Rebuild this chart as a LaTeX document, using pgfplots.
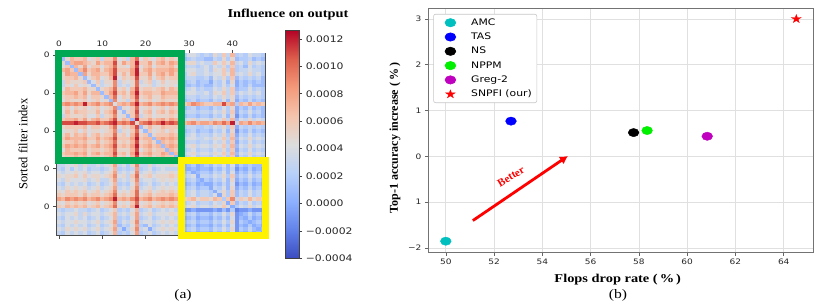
\documentclass[border=0pt]{standalone}
\usepackage{pgfplots}
\pgfplotsset{compat=1.18}
\usepackage{pgfplotstable}
\usetikzlibrary{arrows.meta}
\usepackage{fontspec}
\setmainfont{Liberation Serif}
\newfontfamily\serifX{Liberation Serif}[FakeStretch=1.2]
\newfontfamily\mplfont{DejaVu Sans}[FakeStretch=1.2]
\definecolor{hmgreen}{RGB}{0,168,84}
\definecolor{amc}{RGB}{0,191,191}
\definecolor{nppm}{RGB}{0,240,0}
\definecolor{greg}{RGB}{191,0,191}
\pgfplotsset{/pgf/number format/assume math mode=true}
\pgfdeclareplotmark{cell}{\pgfpathrectangle{\pgfqpoint{-2.2pt}{-1.93pt}}{\pgfqpoint{4.4pt}{3.86pt}}\pgfusepathqfill}
\pgfdeclareplotmark{fstar}{%
  \pgfpathmoveto{\pgfpointpolar{90}{\pgfplotmarksize}}%
  \pgfpathlineto{\pgfpointpolar{126}{0.382\pgfplotmarksize}}%
  \pgfpathlineto{\pgfpointpolar{162}{\pgfplotmarksize}}%
  \pgfpathlineto{\pgfpointpolar{198}{0.382\pgfplotmarksize}}%
  \pgfpathlineto{\pgfpointpolar{234}{\pgfplotmarksize}}%
  \pgfpathlineto{\pgfpointpolar{270}{0.382\pgfplotmarksize}}%
  \pgfpathlineto{\pgfpointpolar{306}{\pgfplotmarksize}}%
  \pgfpathlineto{\pgfpointpolar{342}{0.382\pgfplotmarksize}}%
  \pgfpathlineto{\pgfpointpolar{18}{\pgfplotmarksize}}%
  \pgfpathlineto{\pgfpointpolar{54}{0.382\pgfplotmarksize}}%
  \pgfpathclose\pgfusepathqfillstroke}
% influence matrix, units of 1e-4 (rows = sorted filter index, columns 0..47)
\pgfplotstableread[header=false]{
1 5 6 4 7 5 8 5 4 7 5 6 6 10 4 6 5 8 11 3 6 7 5 6 8 5 7 6 3 2 4 4 3 2 3 2 5 3 6 3 7 2 3 2 4 3 3 2
6 1 5 7 6 6 7 4 5 6 3 6 6 9 4 5 3 7 10 4 6 5 4 6 7 5 6 5 3 1 2 3 2 2 1 1 3 2 5 2 5 1 2 2 3 1 2 1
7 5 1 7 8 8 7 6 5 8 6 7 7 11 5 8 6 7 12 6 6 8 5 7 8 6 8 7 4 3 5 5 3 4 3 3 6 4 6 4 7 3 4 2 5 3 4 3
6 4 6 1 7 5 8 4 6 6 4 6 7 10 5 5 4 7 11 4 6 7 4 6 6 6 7 5 2 2 3 3 2 3 4 2 4 3 5 2 6 2 3 1 4 2 3 2
8 7 8 6 1 7 9 6 7 8 5 7 8 11 6 6 6 8 12 5 7 8 6 7 7 7 8 7 3 3 4 4 3 3 4 2 5 4 6 3 7 2 3 3 4 3 3 2
7 5 8 7 7 1 8 5 7 7 6 6 8 11 5 7 5 8 12 6 6 8 5 7 8 6 8 6 4 2 4 5 3 3 4 3 4 4 6 4 7 3 4 3 5 3 4 2
5 5 6 6 7 5 1 4 6 7 4 5 7 12 4 6 5 6 11 5 5 7 4 6 7 5 6 6 3 2 3 3 2 2 3 1 4 3 5 2 6 1 3 2 3 2 3 1
4 3 6 5 5 5 6 1 4 6 3 5 5 9 3 5 4 5 10 3 5 6 3 4 6 4 5 5 2 1 2 3 1 2 2 0 3 2 4 1 5 0 2 1 2 1 2 1
5 3 5 4 6 4 5 4 1 5 3 4 5 9 3 4 3 5 10 4 4 5 3 4 5 4 5 4 2 1 1 2 1 2 1 1 3 2 4 2 4 0 2 1 3 1 1 1
6 4 7 6 6 6 7 5 5 1 5 6 7 10 5 6 4 7 11 5 6 6 5 6 7 5 7 6 3 2 3 4 2 3 2 2 4 3 5 3 6 1 2 2 4 2 3 2
7 6 7 7 8 6 8 5 7 7 1 6 8 11 6 7 5 8 12 6 7 7 6 6 8 7 7 7 4 3 4 4 3 3 4 2 5 4 6 3 6 2 4 3 4 3 4 2
6 5 6 6 7 6 7 4 6 6 5 1 7 10 4 6 5 7 11 5 6 7 5 5 7 6 6 6 3 2 3 3 2 3 3 2 4 3 5 3 5 1 3 2 3 2 3 2
5 4 6 5 5 5 6 4 5 6 4 5 1 9 4 5 3 6 10 4 5 6 4 5 6 5 5 5 2 1 2 3 1 2 2 1 3 2 4 1 5 0 2 1 3 1 2 1
8 8 9 8 9 8 12 7 8 9 7 8 9 4 7 8 7 9 12 7 8 9 7 8 9 8 9 8 6 6 7 9 8 7 6 6 7 7 11 7 8 2 7 6 8 6 7 6
5 4 6 4 6 5 6 4 5 6 4 5 6 9 1 5 4 6 10 4 5 6 4 5 6 4 6 5 2 1 2 3 1 2 2 1 3 2 4 2 5 0 2 1 3 1 2 1
6 4 7 5 7 6 6 5 5 7 4 6 7 10 4 1 5 6 11 4 6 7 4 6 7 5 7 6 3 2 3 3 2 3 3 2 4 3 5 2 6 0 3 2 4 2 3 1
5 3 6 5 5 5 6 4 4 6 3 5 6 9 4 5 1 6 10 3 5 6 4 5 5 5 6 5 2 1 2 2 1 2 2 1 3 2 4 1 5 -1 2 1 3 1 2 1
7 6 7 7 8 6 8 5 7 8 6 6 8 11 5 7 6 1 12 6 6 8 6 7 8 6 8 7 4 3 4 5 3 4 4 3 5 4 6 3 7 1 4 3 5 3 4 3
12 11 11 11 12 11 11 10 10 11 9 10 11 12 9 10 9 11 5 9 10 11 9 10 12 10 11 10 8 7 8 9 7 8 8 7 9 8 10 8 12 3 8 7 9 7 8 7
5 5 6 6 6 6 7 4 6 6 5 5 7 10 4 6 5 7 11 1 5 7 5 5 7 6 6 6 3 2 3 3 2 2 3 2 4 3 5 2 6 0 3 2 3 2 3 2
5 4 5 5 6 4 6 4 5 5 4 5 6 9 3 5 4 6 10 4 1 6 4 5 6 4 6 5 2 1 2 3 1 2 2 1 3 2 4 1 5 -1 2 1 3 1 2 1
6 5 7 5 7 6 7 4 6 7 5 6 6 10 5 6 4 7 11 5 6 1 5 6 6 6 7 6 3 2 3 4 2 3 3 2 4 3 5 2 6 0 3 2 4 2 3 2
7 6 8 7 7 7 8 6 6 8 6 7 8 11 6 6 6 8 12 6 7 7 1 7 8 7 8 7 4 3 4 4 3 3 4 3 5 4 6 3 7 1 4 3 5 3 4 3
6 5 6 6 7 6 7 5 5 7 5 6 7 10 5 6 5 7 11 5 6 7 5 1 7 6 7 6 3 2 3 3 2 3 3 2 4 3 5 2 6 0 3 2 4 2 3 2
8 6 8 7 8 7 8 6 7 8 6 7 8 11 6 7 6 8 12 6 7 8 6 7 1 7 8 7 4 3 4 5 3 4 4 3 5 4 6 3 7 1 4 3 5 3 4 3
6 4 7 6 6 6 7 5 6 6 5 6 7 10 5 5 5 7 11 4 6 7 5 6 6 1 7 6 3 2 3 4 2 3 3 2 4 3 5 2 6 0 3 2 4 2 3 2
7 6 7 7 8 7 8 5 7 8 6 7 7 11 6 7 5 8 12 6 7 8 6 6 8 7 1 7 4 3 4 5 3 4 4 3 5 4 6 3 7 1 4 3 5 3 4 3
6 5 6 6 7 6 7 5 6 6 5 6 7 10 5 6 4 7 11 5 6 7 5 6 7 6 6 1 3 2 3 4 2 3 3 2 4 3 5 2 6 0 3 2 4 2 3 2
3 2 3 3 4 2 4 2 3 3 2 3 4 7 2 3 1 4 8 2 3 4 2 3 3 3 4 3 0 0 1 1 0 1 1 0 2 1 3 1 3 -1 1 0 2 0 1 0
3 3 4 4 5 3 5 3 3 4 3 4 5 8 3 4 2 5 9 3 3 5 3 4 4 4 5 4 1 0 1 2 0 1 2 1 3 2 4 1 4 0 2 1 2 1 1 1
3 2 4 2 4 3 4 2 3 3 2 3 4 7 2 3 2 3 8 2 3 4 2 3 4 3 3 3 1 0 0 1 0 1 1 0 2 1 3 1 3 -1 1 0 2 0 1 0
4 3 4 4 5 4 5 3 4 4 3 4 5 8 3 4 3 4 9 3 4 5 3 4 4 4 5 4 2 1 2 0 1 2 2 1 3 2 4 1 4 0 2 1 3 1 2 1
5 4 5 5 6 4 6 4 5 5 4 5 6 9 4 5 3 6 10 4 5 6 4 5 5 5 6 5 3 2 3 4 0 3 3 2 4 3 5 2 6 1 3 2 4 2 3 2
4 3 5 4 4 4 5 3 4 5 3 3 5 8 3 4 3 5 9 3 4 4 3 4 5 4 5 4 2 1 2 3 1 0 2 1 3 2 4 1 5 0 2 1 3 1 2 1
3 2 4 3 4 3 4 2 3 4 2 3 4 7 2 3 2 4 8 2 3 4 2 3 4 3 4 3 1 0 1 2 0 1 0 0 2 1 3 1 4 -1 1 0 2 0 1 0
4 3 5 4 5 4 5 3 4 5 3 4 5 8 3 4 3 5 9 3 4 5 3 4 5 4 5 4 2 1 2 3 1 2 2 0 3 2 4 1 5 0 2 1 3 1 2 1
5 4 6 5 6 5 6 4 5 6 4 5 6 9 4 5 4 6 10 4 5 6 4 5 6 5 6 5 3 2 3 4 2 3 3 2 0 3 5 2 6 1 3 2 4 2 3 2
6 5 6 6 6 5 7 5 6 6 5 6 7 10 5 6 5 6 10 5 6 7 5 6 6 6 7 6 3 2 3 4 2 3 3 2 4 0 5 2 6 1 3 2 4 2 3 2
8 7 9 8 9 8 9 7 8 9 7 8 9 12 7 8 7 9 11 7 8 9 7 8 9 8 9 8 6 5 6 7 5 6 6 5 7 6 2 6 9 3 6 5 7 5 6 5
5 4 6 5 6 5 6 4 5 6 4 5 6 9 4 5 4 6 10 4 5 6 4 5 6 5 6 5 3 2 3 4 2 3 3 2 4 3 5 0 6 1 3 2 4 2 3 2
6 5 7 6 7 6 7 5 6 7 5 6 7 10 5 6 5 7 12 5 6 7 5 6 7 6 7 6 4 3 4 5 3 4 4 3 5 4 6 4 0 2 4 3 5 3 4 3
3 2 3 3 4 3 3 2 3 4 2 3 4 6 2 3 2 4 7 2 3 4 2 3 4 3 4 3 -1 -1 -1 0 -1 -1 -1 -1 0 -1 1 -1 2 -2 -1 -1 0 -1 -1 -1
4 3 4 4 5 3 5 3 4 4 3 4 5 7 3 4 3 5 8 3 4 5 3 4 4 4 5 4 2 1 2 3 1 2 2 1 3 2 4 2 5 -1 0 1 3 1 2 1
3 2 4 3 4 3 4 2 3 4 2 3 4 7 2 3 2 4 8 2 3 4 2 3 4 3 4 3 1 0 1 2 0 1 1 0 2 1 3 1 4 -1 1 0 2 0 1 0
4 3 4 4 5 4 4 3 4 5 3 4 5 8 2 4 3 5 9 3 4 4 3 4 5 4 5 4 2 1 2 3 1 2 2 1 3 2 4 2 5 -1 2 1 0 1 2 1
3 2 4 3 4 3 4 2 3 4 2 3 4 7 1 3 2 4 8 2 1 4 2 3 4 3 4 3 1 0 1 2 0 1 1 0 2 1 3 1 4 -1 1 0 2 0 1 0
4 3 5 4 5 4 5 3 4 5 3 4 5 8 3 0 3 5 9 3 4 0 3 4 5 4 5 4 2 1 2 3 1 2 2 1 3 2 4 2 5 -1 2 1 3 1 0 1
3 2 4 3 4 3 4 2 3 4 2 3 4 7 2 3 2 4 8 2 3 4 2 3 4 3 4 3 1 0 1 2 0 1 1 0 2 1 3 1 4 -1 1 0 2 0 1 0
}\hmdata
\begin{document}
\begin{tikzpicture}
\path[use as bounding box] (0pt,0pt) rectangle (830pt,-305pt);
% ---------------- (a) heatmap ----------------
\begin{axis}[
  at={(56.7pt,-53.3pt)}, anchor=north west,
  scale only axis, width=208.3pt, height=181.7pt,
  xmin=-0.5, xmax=47.5, ymin=-0.5, ymax=47.5, y dir=reverse,
  clip=false,
  xtick={0,10,20,30,40}, ytick={0,10,20,30,40},
  xticklabels={0,10,20,30,40}, yticklabels={0,0,0,0,0},
  xticklabel pos=right, ytick pos=left,
  tick align=outside, major tick length=3.5pt,
  tick style={black!70, line width=0.6pt},
  axis line style={black!70, line width=0.7pt},
  tick label style={font=\mplfont\fontsize{7.5}{9}\selectfont, text=black!85},
  ylabel={Sorted filter index},
  ylabel style={at={(axis description cs:-0.162,0.5)}, anchor=center, font=\fontsize{12.5}{14}\selectfont},
  colormap={coolwarm}{rgb255=(59,76,192) rgb255=(98,130,234) rgb255=(141,176,254) rgb255=(184,208,249) rgb255=(221,221,221) rgb255=(245,196,173) rgb255=(244,154,123) rgb255=(222,96,77) rgb255=(180,4,38)},
  point meta min=-4, point meta max=12.6,
  colorbar,
  colorbar style={
    at={(parent axis.north east)}, anchor=north west, xshift=12pt, yshift=22.6pt,
    scale only axis, width=13.7pt, height=227.6pt,
    ytick={-4,-2,0,2,4,6,8,10,12},
    yticklabels={−0.0004,−0.0002,0.0000,0.0002,0.0004,0.0006,0.0008,0.0010,0.0012},
    ytick pos=right, yticklabel pos=right,
    yticklabel style={font=\mplfont\fontsize{9}{10}\selectfont, text=black!85},
    tick align=outside, major tick length=3pt,
    tick style={black!75, line width=0.6pt},
    axis line style={black!75, line width=0.7pt},
  },
]
\pgfplotsinvokeforeach{0,...,47}{
  \addplot[scatter, only marks, mark=cell, point meta=explicit,
    scatter/use mapped color={fill=mapped color, draw=none}]
    table[x expr=#1, y expr=\coordindex, meta index=#1] {\hmdata};
}
\coordinate (g1) at (axis cs:-0.05,-0.4);
\coordinate (g2) at (axis cs:28.2,27.7);
\coordinate (y2) at (axis cs:47.6,47.6);
\end{axis}
\draw[hmgreen, line width=7pt] (g1) rectangle (g2);
\draw[yellow, line width=7pt] (g2) rectangle (y2);
\node[font=\serifX\bfseries\fontsize{12}{14}\selectfont] at (288pt,-15pt) {Influence on output};
\node[font=\serifX\fontsize{13}{15}\selectfont] at (183pt,-295pt) {(a)};
% ---------------- (b) scatter ----------------
\begin{axis}[
  at={(428.3pt,-8.3pt)}, anchor=north west,
  scale only axis, width=385pt, height=244pt,
  xmin=49.275, xmax=65.225, ymin=-2.0925, ymax=3.2325,
  xtick={50,52,54,56,58,60,62,64}, xticklabels={50,52,54,56,58,60,62,64},
  ytick={-2,-1,0,1,2,3}, yticklabels={−2,1,0,1,2,3},
  xtick pos=left, ytick pos=left, tick align=outside, major tick length=3.5pt,
  tick style={black!60, line width=0.6pt},
  axis line style={black!55, line width=0.7pt},
  grid=major, major grid style={black!12, line width=0.7pt},
  tick label style={font=\mplfont\fontsize{7.5}{9}\selectfont, text=black!85},
  xlabel={Flops drop rate (\,\%\,)},
  xlabel style={at={(axis description cs:0.492,-0.111)}, anchor=center, font=\serifX\bfseries\fontsize{12}{14}\selectfont},
  ylabel={Top-1 accuracy increase (\,\%\,)},
  ylabel style={at={(axis description cs:-0.0865,0.468)}, anchor=center, font=\bfseries\fontsize{12}{14}\selectfont},
  legend cell align=left,
  legend style={at={(0.013,0.977)}, anchor=north west, draw=black!22, rounded corners=2pt, fill=white,
    font=\mplfont\fontsize{9}{10}\selectfont, inner xsep=3pt, inner ysep=2pt, row sep=1.3pt,
    nodes={inner sep=2pt, text height=7pt, text depth=2pt}, line width=0.6pt},
  legend image code/.code={\draw[#1] plot coordinates {(13.5pt,0pt)}; \path (0pt,-4pt) (32pt,4pt);},
]
\addplot[only marks, mark=*, mark size=4.15pt, color=amc, mark options={xscale=1.3}] coordinates {(50,-1.85)};
\addlegendentry{AMC}
\addplot[only marks, mark=*, mark size=4.15pt, color=blue, mark options={xscale=1.3}] coordinates {(52.70,0.77)};
\addlegendentry{TAS}
\addplot[only marks, mark=*, mark size=4.15pt, color=black, mark options={xscale=1.3}] coordinates {(57.78,0.52)};
\addlegendentry{NS}
\addplot[only marks, mark=*, mark size=4.15pt, color=nppm, mark options={xscale=1.3}] coordinates {(58.34,0.565)};
\addlegendentry{NPPM}
\addplot[only marks, mark=*, mark size=4.15pt, color=greg, mark options={xscale=1.3}] coordinates {(60.83,0.44)};
\addlegendentry{Greg-2}
\addplot[only marks, mark=fstar, mark size=4.4pt, color=red, mark options={xscale=1.15, sharp corners, line width=0.3pt}] coordinates {(64.52,3.0)};
\addlegendentry{SNPFI (our)}
\draw[red, line width=2.8pt, -{Latex[length=8pt,width=9pt]}] (axis cs:51.12,-1.40) -- (axis cs:55.06,0.01);
\node[red, rotate=31, font=\bfseries\fontsize{11}{13}\selectfont] at (axis cs:52.70,-0.44) {Better};
\end{axis}
\node[font=\serifX\fontsize{13}{15}\selectfont] at (618pt,-295pt) {(b)};
\end{tikzpicture}
\end{document}
